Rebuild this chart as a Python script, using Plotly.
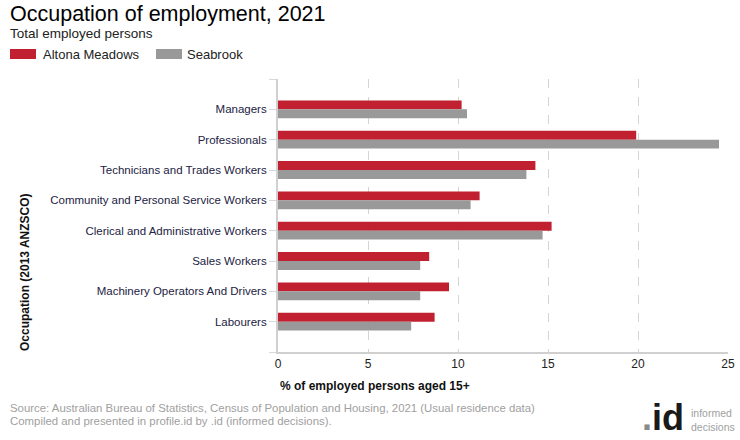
import plotly.graph_objects as go

categories = ["Managers", "Professionals", "Technicians and Trades Workers",
              "Community and Personal Service Workers", "Clerical and Administrative Workers",
              "Sales Workers", "Machinery Operators And Drivers", "Labourers"]
altona = [10.2, 19.9, 14.3, 11.2, 15.2, 8.4, 9.5, 8.7]
seabrook = [10.5, 24.5, 13.8, 10.7, 14.7, 7.9, 7.9, 7.4]
x_ticks = [0, 5, 10, 15, 20, 25]

RED = "#C0202F"
GRAY = "#999999"
FONT = "Liberation Sans, Arial, sans-serif"

W, H = 740, 440
L, R, T, B = 278, 12, 79, 88
PW, PH = W - L - R, H - T - B

def px(xp):
    return (xp - L) / PW

def py(yp):
    return 1 - (yp - T) / PH

pos = list(range(len(categories)))

fig = go.Figure()
fig.add_trace(go.Bar(y=pos, x=altona, orientation="h", name="Altona Meadows",
                     marker=dict(color=RED, line=dict(width=0))))
fig.add_trace(go.Bar(y=pos, x=seabrook, orientation="h", name="Seabrook",
                     marker=dict(color=GRAY, line=dict(width=0))))

tickvals = [-1] + pos + [len(categories)]
ticktext = [""] + categories + [""]

fig.update_layout(
    template="none",
    width=W, height=H, autosize=False,
    margin=dict(l=L, r=R, t=T, b=B, pad=0, autoexpand=False),
    paper_bgcolor="white", plot_bgcolor="white",
    barmode="group", bargap=0.41, bargroupgap=0,
    showlegend=False,
    font=dict(family=FONT, size=12, color="#222244"),
    xaxis=dict(range=[0, 25], tickvals=x_ticks, showgrid=True, gridcolor="#d4d4d4",
               griddash="dash", gridwidth=1, zeroline=False, showline=True, automargin=False,
               linecolor="#d0d0d0", linewidth=2, ticks="", tickfont=dict(size=12, color="#222222"),
               fixedrange=True),
    yaxis=dict(range=[len(categories), -1], tickvals=tickvals, ticktext=ticktext,
               showgrid=False, zeroline=False, showline=True, linecolor="#d0d0d0", linewidth=2,
               ticks="outside", ticklen=7, tickcolor="#d8d8d8", tickwidth=1, automargin=False,
               tickfont=dict(size=11.5, color="#222244"), fixedrange=True),
)

ann = []
ann.append(dict(text="Occupation of employment, 2021", x=px(8), y=py(14), xanchor="left",
                yanchor="middle", font=dict(size=21.5, color="#000000")))
ann.append(dict(text="Total employed persons", x=px(8), y=py(34), xanchor="left",
                yanchor="middle", font=dict(size=13.5, color="#222222")))
ann.append(dict(text="Altona Meadows", x=px(41), y=py(54), xanchor="left",
                yanchor="middle", font=dict(size=13, color="#222222")))
ann.append(dict(text="Seabrook", x=px(185), y=py(54), xanchor="left",
                yanchor="middle", font=dict(size=13, color="#222222")))
ann.append(dict(text="<b>Occupation (2013 ANZSCO)</b>", x=px(25), y=py(272), xanchor="center",
                yanchor="middle", textangle=-90, font=dict(size=12, color="#111111")))
ann.append(dict(text="<b>% of employed persons aged 15+</b>", x=px(278), y=py(386), xanchor="left",
                yanchor="middle", font=dict(size=12, color="#111111")))
ann.append(dict(text="Source: Australian Bureau of Statistics, Census of Population and Housing, 2021 (Usual residence data)",
                x=px(8), y=py(408), xanchor="left", yanchor="middle",
                font=dict(size=11.4, color="#a0a0a0")))
ann.append(dict(text="Compiled and presented in profile.id by .id (informed decisions).",
                x=px(8), y=py(421), xanchor="left", yanchor="middle",
                font=dict(size=11.4, color="#a0a0a0")))
ann.append(dict(text="<b><span style='color:#8a8a8a'>.</span>id</b>", x=px(686), y=py(417),
                xanchor="right", yanchor="middle",
                font=dict(size=36, color="#1a1a1a", family="Liberation Sans Narrow, Arial Narrow, Liberation Sans")))
ann.append(dict(text="informed<br>decisions", x=px(689), y=py(420), xanchor="left", yanchor="middle",
                align="left", font=dict(size=10.5, color="#a0a0a0",
                                        family="Liberation Sans Narrow, Arial Narrow, Liberation Sans")))
for a in ann:
    a.update(xref="paper", yref="paper", showarrow=False)
fig.update_layout(annotations=ann)

fig.add_shape(type="rect", xref="paper", yref="paper", x0=px(10), x1=px(36), y0=py(49), y1=py(59),
              fillcolor=RED, line=dict(width=0))
fig.add_shape(type="rect", xref="paper", yref="paper", x0=px(156), x1=px(182), y0=py(49), y1=py(59),
              fillcolor=GRAY, line=dict(width=0))

post = ("document.documentElement.style.overflow='hidden';"
        "document.body.style.overflow='hidden';"
        "document.body.style.margin='0';")

fig.write_html("out.html", config={"displayModeBar": False},
               post_script=post)
